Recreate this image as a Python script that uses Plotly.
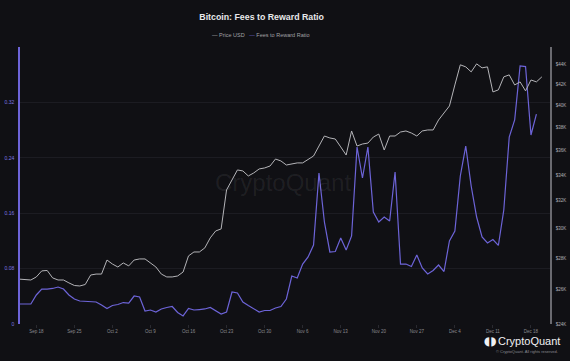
import plotly.graph_objects as go
import pandas as pd

start = "2023-09-15"
price_usd = [26650, 26630, 26600, 26790, 27170, 27200, 26730, 26600, 26600, 26420,
             26260, 26230, 26320, 26910, 26970, 26970, 27870, 27610, 27420, 27680,
             27490, 27870, 27940, 27940, 27680, 27420, 26970, 26790, 26790, 26850,
             27100, 28140, 28400, 28400, 28670, 29350, 29830, 29970, 32830, 33600,
             34400, 34320, 33920, 34160, 34480, 34560, 34720, 35290, 35130, 34800,
             34880, 34970, 34970, 35290, 35540, 36380, 37240, 37070, 36980, 36300,
             35620, 37680, 36380, 36550, 36630, 37150, 37410, 36040, 37240, 37240,
             37590, 37680, 37500, 37240, 37680, 37770, 37770, 38660, 39300, 39950,
             41960, 43980, 43770, 43260, 44080, 43670, 43770, 41280, 41480, 42760,
             42960, 41960, 42260, 41380, 42450, 42260, 42760]
fee_ratio = [0.0289, 0.0289, 0.0289, 0.0419, 0.0505, 0.0505, 0.0513, 0.0534, 0.0505, 0.0419,
             0.0361, 0.0332, 0.0325, 0.0318, 0.0318, 0.0274, 0.0224, 0.0267, 0.0282, 0.0310,
             0.0303, 0.0404, 0.0390, 0.0188, 0.0202, 0.0173, 0.0217, 0.0238, 0.0253, 0.0166,
             0.0116, 0.0224, 0.0202, 0.0209, 0.0217, 0.0238, 0.0195, 0.0144, 0.0173, 0.0462,
             0.0448, 0.0318, 0.0267, 0.0217, 0.0173, 0.0195, 0.0195, 0.0231, 0.0253, 0.0361,
             0.0693, 0.0664, 0.0866, 0.0968, 0.1141, 0.2181, 0.1473, 0.1040, 0.1047, 0.1242,
             0.1069, 0.1271, 0.2556, 0.2108, 0.2556, 0.1617, 0.1473, 0.1545, 0.1487, 0.2195,
             0.0866, 0.0866, 0.0830, 0.0996, 0.0809, 0.0722, 0.0773, 0.0852, 0.0758, 0.1199,
             0.1343, 0.2137, 0.2570, 0.1993, 0.1545, 0.1256, 0.1170, 0.1220, 0.1134, 0.1646,
             0.2700, 0.2946, 0.3726, 0.3718, 0.2729, 0.3032]

price_dates = pd.date_range(start, periods=len(price_usd), freq="D")
ratio_dates = pd.date_range(start, periods=len(fee_ratio), freq="D")

left_ticks = [0, 0.08, 0.16, 0.24, 0.32, 0.40]
left_text = ["0", "0.08", "0.16", "0.24", "0.32", ""]
right_ticks = [24000, 26000, 28000, 30000, 32000, 34000, 36000, 38000, 40000, 42000, 44000]
right_text = ["$24K", "$26K", "$28K", "$30K", "$32K", "$34K", "$36K", "$38K", "$40K", "$42K", "$44K"]
x_ticks = pd.date_range("2023-09-18", "2023-12-18", freq="7D")
x_text = [d.strftime("%b ") + str(d.day) for d in x_ticks]

BG = "#101014"
PURPLE = "#6d64d8"
GRAY_LINE = "#b4b4b8"
FONT = "Liberation Sans, Arial, sans-serif"

fig = go.Figure()
fig.add_trace(go.Scatter(x=price_dates, y=price_usd, name="Price USD", yaxis="y2",
                         mode="lines", line=dict(color=GRAY_LINE, width=1), showlegend=False))
fig.add_trace(go.Scatter(x=ratio_dates, y=fee_ratio, name="Fees to Reward Ratio", yaxis="y",
                         mode="lines", line=dict(color=PURPLE, width=1.2), showlegend=False))

fig.update_layout(
    width=570, height=361,
    paper_bgcolor=BG, plot_bgcolor=BG,
    margin=dict(l=20, r=20, t=47, b=37, autoexpand=False),
    font=dict(family=FONT, color="#9a9aa0", size=5),
    title=dict(text="<b>Bitcoin: Fees to Reward Ratio</b>", x=0.459, xanchor="center",
               y=0.952, yanchor="middle", yref="container",
               font=dict(size=8.8, color="#e8e8ea", family=FONT)),
    showlegend=False,
    xaxis=dict(type="date", range=["2023-09-15", "2023-12-21 12:00"], automargin=False,
               tickvals=x_ticks, ticktext=x_text, showgrid=False, zeroline=False,
               ticks="outside", ticklen=3, tickcolor="#2a2a30", showline=False,
               tickfont=dict(size=4.5, color="#8a8a90")),
    yaxis=dict(range=[0, 0.4], tickvals=left_ticks, ticktext=left_text, automargin=False,
               showline=True, linecolor=PURPLE, linewidth=1.5,
               gridcolor="#1c1c22", gridwidth=1, zeroline=False,
               tickfont=dict(size=5, color="#7d76e0"), ticks="", ticklabelstandoff=3),
    yaxis2=dict(type="log", range=[4.380211, 4.661339], overlaying="y", side="right",
                tickvals=right_ticks, ticktext=right_text, automargin=False,
                showline=True, linecolor="#6a6a70", linewidth=1.5,
                showgrid=False, zeroline=False, ticks="", ticklabelstandoff=3,
                tickfont=dict(size=4.5, color="#b0b0b4")),
)

# legend drawn as text entries
legend_text = (f"<span style='color:{GRAY_LINE}'>—</span> Price USD"
               f"&nbsp;&nbsp;&nbsp;<span style='color:{PURPLE}'>—</span> Fees to Reward Ratio")
fig.add_annotation(text=legend_text, xref="paper", yref="paper", x=0.455, y=1.043,
                   xanchor="center", yanchor="middle", showarrow=False,
                   font=dict(size=5.5, color="#a0a0a6", family=FONT))

fig.add_annotation(text="CryptoQuant", xref="paper", yref="paper", x=0.497, y=0.51,
                   showarrow=False, font=dict(size=24, color="rgba(255,255,255,0.07)", family=FONT))
fig.add_annotation(text="◖◗", xref="paper", yref="paper", x=0.888, y=-0.06,
                   xanchor="center", yanchor="middle", showarrow=False,
                   font=dict(size=12, color="#f0f0f2", family="DejaVu Sans"))
fig.add_annotation(text="CryptoQuant", xref="paper", yref="paper", x=1.022, y=-0.06,
                   xanchor="right", yanchor="middle", showarrow=False,
                   font=dict(size=11, color="#f0f0f2", family=FONT))
fig.add_annotation(text="© CryptoQuant. All rights reserved.", xref="paper", yref="paper",
                   x=1.019, y=-0.098, xanchor="right", yanchor="middle", showarrow=False,
                   font=dict(size=4, color="#8a8a90", family=FONT))

fig.write_html("out.html", config={"displayModeBar": False},
               post_script="document.body.style.margin='0';document.body.style.overflow='hidden';")
